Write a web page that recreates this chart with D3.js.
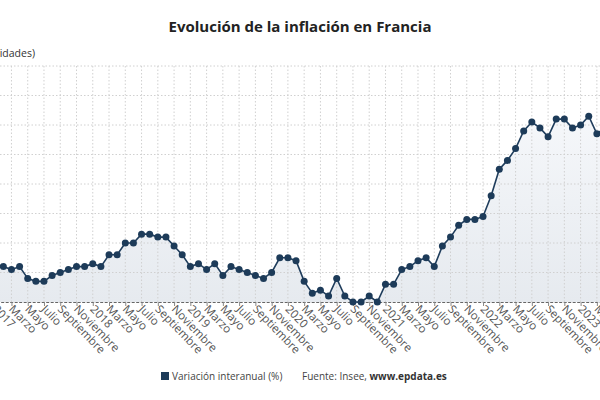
<!DOCTYPE html>
<html>
<head>
<meta charset="utf-8">
<script src="https://cdn.jsdelivr.net/npm/d3@7"></script>
<style>
body{margin:0;background:#fff;overflow:hidden;}
text{font-family:"Open Sans",sans-serif;}
</style>
</head>
<body>
<div id="chart"></div>
<script>
// variación interanual del IPC, enero 2017 - mayo 2023
var years=[2017,2018,2019,2020,2021,2022,2023];
var meses=["Enero","Febrero","Marzo","Abril","Mayo","Junio","Julio","Agosto","Septiembre","Octubre","Noviembre","Diciembre"];
var valores=[
1.3,1.2,1.1,1.2,0.8,0.7,0.7,0.9,1.0,1.1,1.2,1.2,
1.3,1.2,1.6,1.6,2.0,2.0,2.3,2.3,2.2,2.2,1.9,1.6,
1.2,1.3,1.1,1.3,0.9,1.2,1.1,1.0,0.9,0.8,1.0,1.5,
1.5,1.4,0.7,0.3,0.4,0.2,0.8,0.2,0.0,0.0,0.2,0.0,
0.6,0.6,1.1,1.2,1.4,1.5,1.2,1.9,2.2,2.6,2.8,2.8,
2.9,3.6,4.5,4.8,5.2,5.8,6.1,5.9,5.6,6.2,6.2,5.9,
6.0,6.3,5.7,5.9,5.1];
var yTicks=[0,1,2,3,4,5,6,7,8];

var svg=d3.select("#chart").append("svg")
.attr("width",600).attr("height",400);

var x=d3.scaleLinear().domain([0,75]).range([-4.8,605]);
var y=d3.scaleLinear().domain([0,8]).range([302,66]);

var defs=svg.append("defs");
var grad=defs.append("linearGradient").attr("id","fill")
.attr("x1",0).attr("y1",0).attr("x2",0).attr("y2",1);
grad.append("stop").attr("offset","0%").attr("stop-color","#f5f7fa");
grad.append("stop").attr("offset","100%").attr("stop-color","#e6eaef");

svg.append("text").text("Evolución de la inflación en Francia")
.attr("x",300).attr("y",32).attr("text-anchor","middle")
.style("font-size","15px").style("font-weight","bold").style("fill","#222");

svg.append("text").text("(unidades)")
.attr("x",35).attr("y",57).attr("text-anchor","end")
.style("font-size","10.5px").style("fill","#333");

var area=d3.area().x(function(d,i){return x(i);}).y0(y(0)).y1(function(d){return y(d);});
svg.append("path").datum(valores).attr("d",area).attr("fill","url(#fill)");

var tickIdx=d3.range(0,valores.length,2);

// rejilla
svg.append("g").selectAll("line").data(yTicks.filter(function(d){return d>0;}))
.enter().append("line")
.attr("x1",0).attr("x2",600)
.attr("y1",function(d){return y(d);}).attr("y2",function(d){return y(d);})
.attr("stroke","#d0d0d0").attr("stroke-dasharray","1.5,2");

svg.append("g").selectAll("line").data(tickIdx)
.enter().append("line")
.attr("x1",function(d){return x(d);}).attr("x2",function(d){return x(d);})
.attr("y1",y(8)).attr("y2",y(0))
.attr("stroke","#d0d0d0").attr("stroke-dasharray","1.5,2");

// eje x
var xAxis=svg.append("g").attr("transform","translate(0,"+y(0)+")")
.call(d3.axisBottom(x).tickValues(tickIdx).tickSize(4)
.tickFormat(function(i){return i%12==0?String(years[i/12]):meses[i%12];}));
xAxis.select(".domain").attr("stroke","#666").attr("stroke-dasharray","3,1.5");
xAxis.selectAll(".tick line").attr("stroke","#888");
xAxis.selectAll("text")
.style("font-size","11.5px").style("fill","#555")
.attr("text-anchor","start")
.attr("transform","rotate(46)")
.attr("x",3).attr("y",4).attr("dy","0.35em");

var line=d3.line().x(function(d,i){return x(i);}).y(function(d){return y(d);});
svg.append("path").datum(valores).attr("d",line)
.attr("fill","none").attr("stroke","#1f3d5c").attr("stroke-width",1.6);

svg.append("g").selectAll("circle").data(valores)
.enter().append("circle")
.attr("cx",function(d,i){return x(i);})
.attr("cy",function(d){return y(d);})
.attr("r",3.5).attr("fill","#1d3b59");

// leyenda
svg.append("rect").attr("x",161).attr("y",372).attr("width",8).attr("height",8).attr("fill","#1d3b59");
svg.append("text").text("Variación interanual (%)")
.attr("x",172).attr("y",379.5).style("font-size","10px").style("fill","#444");
var fuente=svg.append("text").attr("x",302).attr("y",379.5).style("font-size","10px").style("fill","#444");
fuente.append("tspan").text("Fuente: Insee, ");
fuente.append("tspan").text("www.epdata.es").style("font-weight","bold").style("fill","#333");
</script>
</body>
</html>
